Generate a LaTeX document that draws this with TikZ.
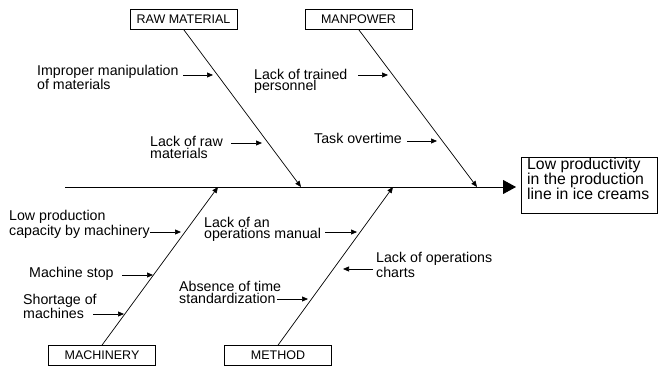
\documentclass[tikz,border=0pt]{standalone}
\usepackage{fontspec}
\setmainfont{Liberation Sans}
\usetikzlibrary{arrows.meta}
\begin{document}
\begin{tikzpicture}[x=1pt,y=-1pt,
  bone/.style={line width=0.7pt},
  sub/.style={line width=0.7pt,-{Triangle[length=6pt,width=5pt]}},
  cat/.style={draw,line width=0.7pt,minimum width=107pt,minimum height=20pt,inner sep=0pt,font=\fontsize{12.5}{14}\selectfont},
  lbl/.style={anchor=base west,inner sep=0pt,align=left,font=\fontsize{14.2}{11.5}\selectfont}]
\useasboundingbox (0,0) rectangle (658,366);
% spine
\coordinate (tail) at (65,187);
\coordinate (head) at (516,187);
\draw[line width=0.9pt,-{Triangle[length=13pt,width=14pt]}] (tail) -- (head);
\node[draw,line width=0.7pt,anchor=north west,minimum width=136pt,minimum height=56pt,inner sep=0pt] (effect) at (521,157) {};
\node[lbl,font=\fontsize{15.8}{15}\selectfont] (efftxt) at (527,200) {Low productivity\\in the production\\line in ice creams};
% categories
\node[cat] (raw) at (183.5,19) {RAW MATERIAL};
\node[cat] (man) at (358.5,19) {MANPOWER};
\node[cat] (mach) at (102,355.5) {MACHINERY};
\node[cat] (meth) at (278,355.5) {METHOD};
\coordinate (rawE) at (301,187);
\coordinate (manE) at (477,187);
\coordinate (machE) at (218,187);
\coordinate (methE) at (393,187);
\draw[sub] (raw.south) -- (rawE);
\draw[sub] (man.south) -- (manE);
\draw[sub] (mach.north) -- (machE);
\draw[sub] (meth.north) -- (methE);
% sub causes
\node[lbl] (t1) at (37,89.5) {Improper manipulation\\of materials};
\coordinate (a1s) at (183,75); \coordinate (a1e) at (213,75);
\draw[sub] (a1s) -- (a1e);
\node[lbl] (t2) at (150,158.5) {Lack of raw\\materials};
\coordinate (a2s) at (231,143); \coordinate (a2e) at (262,143);
\draw[sub] (a2s) -- (a2e);
\node[lbl] (t3) at (254,91) {Lack of trained\\personnel};
\coordinate (a3s) at (358,75); \coordinate (a3e) at (388,75);
\draw[sub] (a3s) -- (a3e);
\node[lbl] (t4) at (314,144) {Task overtime};
\coordinate (a4s) at (407,141); \coordinate (a4e) at (437,141);
\draw[sub] (a4s) -- (a4e);
\node[lbl] (t5) at (9,235) {Low production\\capacity by machinery};
\coordinate (a5s) at (150,232); \coordinate (a5e) at (181,232);
\draw[sub] (a5s) -- (a5e);
\node[lbl] (t6) at (29,277) {Machine stop};
\coordinate (a6s) at (122,275); \coordinate (a6e) at (153,275);
\draw[sub] (a6s) -- (a6e);
\node[lbl] (t7) at (23,318.5) {Shortage of\\machines};
\coordinate (a7s) at (93,314); \coordinate (a7e) at (124,314);
\draw[sub] (a7s) -- (a7e);
\node[lbl] (t8) at (204,238.5) {Lack of an\\operations manual};
\coordinate (a8s) at (325,232); \coordinate (a8e) at (357,232);
\draw[sub] (a8s) -- (a8e);
\node[lbl] (t9) at (179,303) {Absence of time\\standardization};
\coordinate (a9s) at (277,299); \coordinate (a9e) at (308,299);
\draw[sub] (a9s) -- (a9e);
\node[lbl] (t10) at (376,277) {Lack of operations\\charts};
\coordinate (a10s) at (373,269); \coordinate (a10e) at (343,269);
\draw[sub] (a10s) -- (a10e);
\end{tikzpicture}
\end{document}
